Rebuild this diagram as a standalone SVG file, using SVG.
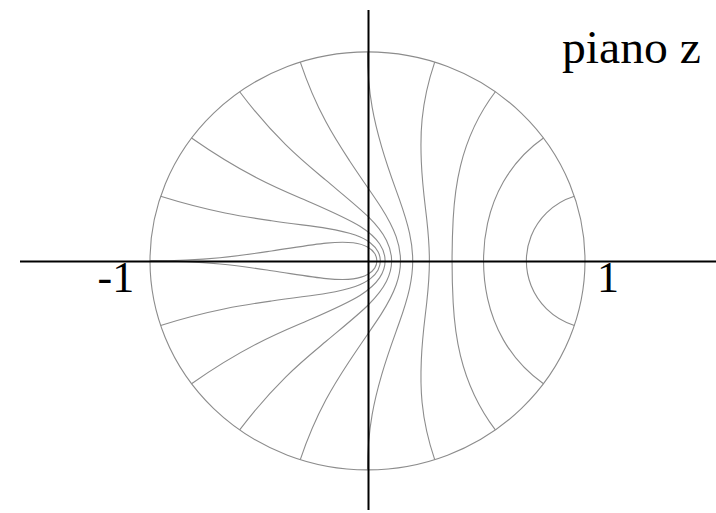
<svg xmlns="http://www.w3.org/2000/svg" width="716" height="513" viewBox="0 0 716 513">
<style>
.bd{fill:none;stroke:#8c8c8c;stroke-width:1.1}
.curve{fill:none;stroke:#8c8c8c;stroke-width:1.1;vector-effect:non-scaling-stroke}
.axis{fill:none;stroke:#000;stroke-width:2}
.lbl{font-family:"Liberation Serif","Times New Roman",serif;fill:#000}
</style>
<defs>
<path id="c1" class="curve" d="M0.9511,0.3090 C0.8989,0.2921 0.8560,0.2631 0.8232,0.2297 C0.7904,0.1962 0.7674,0.1582 0.7524,0.1192 C0.7375,0.0802 0.7304,0.0400 0.7304,0"/>
<path id="c2" class="curve" d="M0.8090,0.5878 C0.7203,0.5233 0.6635,0.4483 0.6249,0.3781 C0.5863,0.3079 0.5652,0.2416 0.5519,0.1793 C0.5387,0.1171 0.5335,0.0585 0.5335,0"/>
<path id="c3" class="curve" d="M0.5878,0.8090 C0.4911,0.6759 0.4511,0.5547 0.4276,0.4548 C0.4041,0.3548 0.3977,0.2733 0.3939,0.2007 C0.3901,0.1281 0.3888,0.0640 0.3888,0"/>
<path id="c4" class="curve" d="M0.3090,0.9511 C0.2412,0.7425 0.2427,0.5895 0.2475,0.4726 C0.2523,0.3557 0.2648,0.2714 0.2725,0.1980 C0.2802,0.1245 0.2846,0.0624 0.2846,0"/>
<path id="c5" class="curve" d="M0,1 C0,0.7944 0.0350,0.6528 0.0654,0.5443 C0.0958,0.4357 0.1246,0.3592 0.1462,0.2951 C0.1679,0.2309 0.1832,0.1796 0.1932,0.1325 C0.2032,0.0854 0.2079,0.0427 0.2079,0"/>
<path id="c6" class="curve" d="M-0.3090,0.9511 C-0.2328,0.7164 -0.1466,0.5804 -0.0826,0.4790 C-0.0185,0.3776 0.0283,0.3119 0.0622,0.2563 C0.0960,0.2007 0.1176,0.1567 0.1316,0.1157 C0.1456,0.0748 0.1518,0.0375 0.1518,0"/>
<path id="c7" class="curve" d="M-0.5878,0.8090 C-0.4186,0.5761 -0.2852,0.4676 -0.1917,0.3861 C-0.0982,0.3045 -0.0390,0.2548 0.0033,0.2112 C0.0456,0.1675 0.0710,0.1318 0.0874,0.0978 C0.1037,0.0638 0.1109,0.0319 0.1109,0"/>
<path id="c8" class="curve" d="M-0.8090,0.5878 C-0.5429,0.3944 -0.3753,0.3314 -0.2609,0.2794 C-0.1464,0.2273 -0.0812,0.1960 -0.0347,0.1655 C0.0119,0.1351 0.0387,0.1076 0.0561,0.0804 C0.0735,0.0533 0.0810,0.0266 0.0810,0"/>
<path id="c9" class="curve" d="M-0.9511,0.3090 C-0.7164,0.2328 -0.5585,0.2096 -0.4411,0.1920 C-0.3237,0.1744 -0.2463,0.1655 -0.1871,0.1554 C-0.1280,0.1453 -0.0876,0.1349 -0.0563,0.1232 C-0.0250,0.1115 -0.0031,0.0988 0.0135,0.0853 C0.0301,0.0719 0.0412,0.0579 0.0485,0.0435 C0.0557,0.0292 0.0592,0.0146 0.0592,0"/>
<path id="c10" class="curve" d="M-1,0 C-0.7258,0 -0.5611,0.0286 -0.4409,0.0474 C-0.3208,0.0661 -0.2464,0.0791 -0.1897,0.0849 C-0.1330,0.0908 -0.0952,0.0903 -0.0657,0.0863 C-0.0362,0.0823 -0.0156,0.0749 0,0.0658 C0.0156,0.0568 0.0261,0.0462 0.0331,0.0349 C0.0400,0.0237 0.0432,0.0118 0.0432,0"/>
</defs>
<rect width="716" height="513" fill="#fff"/>
<g id="disk">
<ellipse class="bd" cx="367.5" cy="260.85" rx="217.5" ry="209"/>
</g>
<g id="curves" transform="translate(367.5,260.85) scale(217.5,-209)">
<use href="#c1"/><use href="#c1" transform="scale(1,-1)"/>
<use href="#c2"/><use href="#c2" transform="scale(1,-1)"/>
<use href="#c3"/><use href="#c3" transform="scale(1,-1)"/>
<use href="#c4"/><use href="#c4" transform="scale(1,-1)"/>
<use href="#c5"/><use href="#c5" transform="scale(1,-1)"/>
<use href="#c6"/><use href="#c6" transform="scale(1,-1)"/>
<use href="#c7"/><use href="#c7" transform="scale(1,-1)"/>
<use href="#c8"/><use href="#c8" transform="scale(1,-1)"/>
<use href="#c9"/><use href="#c9" transform="scale(1,-1)"/>
<use href="#c10"/><use href="#c10" transform="scale(1,-1)"/>
</g>
<g id="axes">
<line class="axis" x1="20" y1="261.5" x2="716" y2="261.5"/>
<line class="axis" x1="368.5" y1="10" x2="368.5" y2="510"/>
</g>
<g id="labels">
<text class="lbl" x="562" y="63" font-size="46" textLength="139" lengthAdjust="spacingAndGlyphs">piano z</text>
<text class="lbl" x="97.5" y="292" font-size="44">-1</text>
<text class="lbl" x="597" y="292" font-size="44">1</text>
</g>
</svg>
